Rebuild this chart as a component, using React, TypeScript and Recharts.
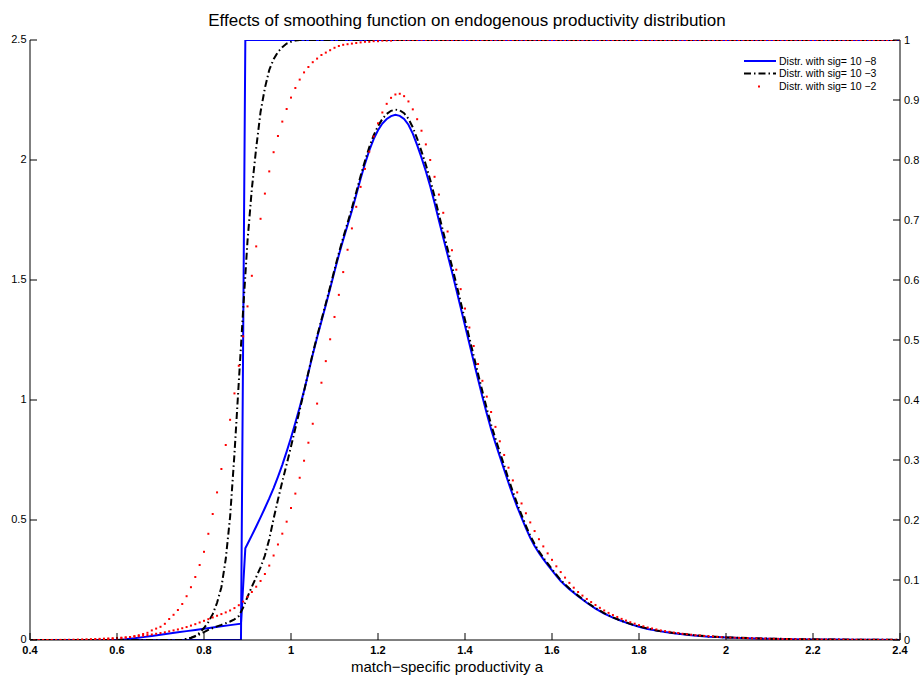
import { LineChart, Line, XAxis, YAxis } from "recharts"

// the picture is drawn from the page's top-left corner, without the default body margin
if (typeof document !== "undefined") {
  document.body.style.margin = "0"
  document.body.style.overflow = "hidden"
}

// evenly spaced sample points of the curves: 0.40, 0.41, ... 2.40
const aGrid = Array.from({ length: 201 }, (_, i) => (40 + i) / 100)

const xTicks = [0.4, 0.6, 0.8, 1, 1.2, 1.4, 1.6, 1.8, 2, 2.2, 2.4]
const densTicks = [0, 0.5, 1, 1.5, 2, 2.5]
const cdfTicks = [0, 0.1, 0.2, 0.3, 0.4, 0.5, 0.6, 0.7, 0.8, 0.9, 1]

const legendLabels = [
  "Distr. with sig= 10 \u22128",
  "Distr. with sig= 10 \u22123",
  "Distr. with sig= 10 \u22122",
]

// sig = 1e-8 : density (left axis) and cdf (right axis)
const blueDensity: [number, number][] = [
  [0.4, 0], [0.6, 0], [0.62, 0.003], [0.64, 0.007], [0.66, 0.012], [0.68, 0.017],
  [0.7, 0.022], [0.72, 0.027], [0.74, 0.032], [0.76, 0.037], [0.78, 0.042], [0.8, 0.047],
  [0.82, 0.052], [0.84, 0.057], [0.86, 0.062], [0.885, 0.068], [0.895, 0.382], [0.9, 0.4],
  [0.91, 0.436], [0.92, 0.473], [0.93, 0.511], [0.94, 0.55], [0.95, 0.59], [0.96, 0.633],
  [0.97, 0.68], [0.98, 0.73], [0.99, 0.785], [1.0, 0.843], [1.01, 0.905], [1.02, 0.97],
  [1.03, 1.038], [1.04, 1.113], [1.05, 1.19], [1.06, 1.26], [1.07, 1.328], [1.08, 1.396],
  [1.09, 1.465], [1.1, 1.535], [1.11, 1.604], [1.12, 1.668], [1.13, 1.728], [1.14, 1.789],
  [1.15, 1.855], [1.16, 1.922], [1.17, 1.984], [1.18, 2.04], [1.19, 2.087], [1.2, 2.124],
  [1.21, 2.152], [1.22, 2.171], [1.23, 2.183], [1.24, 2.188], [1.25, 2.184], [1.26, 2.171],
  [1.27, 2.147], [1.28, 2.11], [1.29, 2.062], [1.3, 2.01], [1.31, 1.953], [1.32, 1.891],
  [1.33, 1.822], [1.34, 1.748], [1.35, 1.676], [1.36, 1.605], [1.37, 1.534], [1.38, 1.46],
  [1.39, 1.385], [1.4, 1.31], [1.41, 1.235], [1.42, 1.16], [1.43, 1.086], [1.44, 1.014],
  [1.45, 0.944], [1.46, 0.878], [1.47, 0.82], [1.48, 0.765], [1.49, 0.71], [1.5, 0.655],
  [1.51, 0.603], [1.52, 0.555], [1.53, 0.51], [1.54, 0.466], [1.55, 0.426], [1.56, 0.392],
  [1.57, 0.363], [1.58, 0.337], [1.59, 0.313], [1.6, 0.29], [1.61, 0.267], [1.62, 0.246],
  [1.63, 0.228], [1.64, 0.212], [1.65, 0.197], [1.66, 0.182], [1.68, 0.155], [1.7, 0.131],
  [1.72, 0.11], [1.74, 0.093], [1.76, 0.079], [1.78, 0.066], [1.8, 0.055], [1.82, 0.046],
  [1.84, 0.039], [1.86, 0.033], [1.88, 0.028], [1.9, 0.024], [1.92, 0.02], [1.94, 0.017],
  [1.96, 0.014], [1.98, 0.012], [2.0, 0.01], [2.05, 0.007], [2.1, 0.005], [2.15, 0.0035],
  [2.2, 0.0025], [2.25, 0.0017], [2.3, 0.0012], [2.35, 0.0008], [2.4, 0.0005],
]
const blueCdf: [number, number][] = [[0.4, 0], [0.885, 0], [0.895, 1], [2.4, 1]]

// sig = 1e-3
const blackDensity: [number, number][] = [
  [0.4, 0], [0.75, 0], [0.76, 0.003], [0.77, 0.008], [0.78, 0.015], [0.79, 0.024],
  [0.8, 0.033], [0.81, 0.042], [0.82, 0.05], [0.83, 0.057], [0.84, 0.063], [0.85, 0.07],
  [0.86, 0.077], [0.87, 0.086], [0.88, 0.1], [0.89, 0.135], [0.9, 0.18], [0.91, 0.222],
  [0.92, 0.262], [0.93, 0.303], [0.94, 0.352], [0.95, 0.42], [0.96, 0.505], [0.97, 0.585],
  [0.98, 0.66], [0.99, 0.732], [1.0, 0.806], [1.01, 0.882], [1.02, 0.958], [1.03, 1.037],
  [1.04, 1.116], [1.05, 1.194], [1.06, 1.266], [1.07, 1.334], [1.08, 1.402], [1.09, 1.472],
  [1.1, 1.543], [1.11, 1.612], [1.12, 1.677], [1.13, 1.738], [1.14, 1.8], [1.15, 1.866],
  [1.16, 1.933], [1.17, 1.996], [1.18, 2.054], [1.19, 2.103], [1.2, 2.141], [1.21, 2.171],
  [1.22, 2.192], [1.23, 2.205], [1.24, 2.21], [1.25, 2.207], [1.26, 2.195], [1.27, 2.172],
  [1.28, 2.136], [1.29, 2.089], [1.3, 2.036], [1.31, 1.98], [1.32, 1.918], [1.33, 1.848],
  [1.34, 1.773], [1.35, 1.7], [1.36, 1.629], [1.37, 1.558], [1.38, 1.484], [1.39, 1.409],
  [1.4, 1.334], [1.41, 1.259], [1.42, 1.184], [1.43, 1.109], [1.44, 1.036], [1.45, 0.965],
  [1.46, 0.898], [1.47, 0.839], [1.48, 0.783], [1.49, 0.727], [1.5, 0.671], [1.51, 0.618],
  [1.52, 0.568], [1.53, 0.521], [1.54, 0.476], [1.55, 0.435], [1.56, 0.4], [1.57, 0.37],
  [1.58, 0.343], [1.59, 0.319], [1.6, 0.295], [1.61, 0.272], [1.62, 0.25], [1.63, 0.232],
  [1.64, 0.215], [1.65, 0.2], [1.66, 0.185], [1.68, 0.157], [1.7, 0.133], [1.72, 0.112],
  [1.74, 0.094], [1.76, 0.08], [1.78, 0.067], [1.8, 0.056], [1.84, 0.04], [1.88, 0.029],
  [1.92, 0.021], [1.96, 0.015], [2.0, 0.011], [2.1, 0.0055], [2.2, 0.0027], [2.3, 0.0013],
  [2.4, 0.0006],
]
const blackCdf: [number, number][] = [
  [0.4, 0], [0.75, 0], [0.76, 0.002], [0.77, 0.004], [0.78, 0.007], [0.79, 0.012],
  [0.8, 0.02], [0.81, 0.03], [0.82, 0.043], [0.83, 0.062], [0.84, 0.088], [0.85, 0.135],
  [0.86, 0.205], [0.87, 0.31], [0.88, 0.43], [0.89, 0.55], [0.9, 0.665], [0.91, 0.752],
  [0.92, 0.82], [0.93, 0.88], [0.94, 0.92], [0.95, 0.95], [0.96, 0.968], [0.97, 0.98],
  [0.98, 0.988], [0.99, 0.994], [1.0, 0.997], [1.01, 0.999], [1.02, 1], [2.4, 1],
]

// sig = 1e-2, one value per point of aGrid (drawn as markers)
const redDensity = [
  0, 0, 0, 0, 0.0001, 0.0002, 0.0003, 0.0005, 0.0007, 0.001,
  0.0013, 0.0017, 0.0022, 0.0027, 0.0033, 0.004, 0.0048, 0.0057, 0.0066, 0.0075,
  0.0085, 0.0097, 0.011, 0.0125, 0.014, 0.016, 0.018, 0.0205, 0.023, 0.026,
  0.029, 0.032, 0.036, 0.04, 0.044, 0.049, 0.054, 0.06, 0.066, 0.073,
  0.08, 0.087, 0.094, 0.101, 0.108, 0.115, 0.123, 0.133, 0.145, 0.16,
  0.18, 0.2, 0.222, 0.246, 0.275, 0.31, 0.352, 0.398, 0.443, 0.493,
  0.55, 0.61, 0.676, 0.747, 0.822, 0.901, 0.985, 1.072, 1.162, 1.253,
  1.346, 1.438, 1.533, 1.626, 1.715, 1.805, 1.888, 1.963, 2.035, 2.098,
  2.153, 2.198, 2.234, 2.259, 2.273, 2.276, 2.266, 2.244, 2.211, 2.17,
  2.122, 2.065, 2.0, 1.93, 1.856, 1.78, 1.702, 1.624, 1.543, 1.462,
  1.381, 1.302, 1.225, 1.15, 1.08, 1.014, 0.95, 0.888, 0.828, 0.771,
  0.718, 0.665, 0.615, 0.569, 0.528, 0.49, 0.454, 0.42, 0.39, 0.361,
  0.334, 0.307, 0.283, 0.26, 0.238, 0.218, 0.2, 0.185, 0.171, 0.158,
  0.146, 0.134, 0.123, 0.113, 0.104, 0.096, 0.088, 0.081, 0.074, 0.068,
  0.062, 0.057, 0.052, 0.048, 0.044, 0.04, 0.037, 0.034, 0.031, 0.029,
  0.026, 0.024, 0.022, 0.02, 0.019, 0.017, 0.016, 0.015, 0.013, 0.012,
  0.011, 0.01, 0.0095, 0.009, 0.0083, 0.0077, 0.0072, 0.0067, 0.0062, 0.0058,
  0.0054, 0.005, 0.0047, 0.0044, 0.0041, 0.0038, 0.0035, 0.0033, 0.0031, 0.0029,
  0.0027, 0.0025, 0.0023, 0.0022, 0.002, 0.0019, 0.0018, 0.0017, 0.0016, 0.0015,
  0.0014, 0.0013, 0.0012, 0.0011, 0.0011, 0.001, 0.0009, 0.0009, 0.0008, 0.0008,
  0.0007,
]
const redCdf = [
  0, 0, 0, 0, 0, 0, 0, 0, 0, 0,
  0, 0.0001, 0.0002, 0.0003, 0.0004, 0.0006, 0.0008, 0.001, 0.0015, 0.002,
  0.0025, 0.003, 0.004, 0.005, 0.0065, 0.008, 0.01, 0.012, 0.016, 0.019,
  0.022, 0.027, 0.035, 0.042, 0.05, 0.06, 0.073, 0.088, 0.105, 0.125,
  0.147, 0.177, 0.21, 0.246, 0.285, 0.325, 0.367, 0.411, 0.457, 0.506,
  0.556, 0.607, 0.656, 0.702, 0.744, 0.781, 0.813, 0.84, 0.864, 0.885,
  0.904, 0.92, 0.934, 0.946, 0.955, 0.963, 0.969, 0.975, 0.979, 0.983,
  0.987, 0.99, 0.992, 0.993, 0.994, 0.995, 0.996, 0.997, 0.997, 0.998,
  0.998, 0.999, 0.999, 0.999, 1, 1, 1, 1, 1, 1,
  1, 1, 1, 1, 1, 1, 1, 1, 1, 1,
  1, 1, 1, 1, 1, 1, 1, 1, 1, 1,
  1, 1, 1, 1, 1, 1, 1, 1, 1, 1,
  1, 1, 1, 1, 1, 1, 1, 1, 1, 1,
  1, 1, 1, 1, 1, 1, 1, 1, 1, 1,
  1, 1, 1, 1, 1, 1, 1, 1, 1, 1,
  1, 1, 1, 1, 1, 1, 1, 1, 1, 1,
  1, 1, 1, 1, 1, 1, 1, 1, 1, 1,
  1, 1, 1, 1, 1, 1, 1, 1, 1, 1,
  1, 1, 1, 1, 1, 1, 1, 1, 1, 1,
  1, 1, 1, 1, 1, 1, 1, 1, 1, 1,
  1,
]

const pts = (arr: [number, number][]) => arr.map(([a, v]) => ({ a, v }))
const onGrid = (vals: number[]) => aGrid.map((a, i) => ({ a, v: vals[i] }))

const FONT = "'Liberation Sans', Arial, Helvetica, sans-serif"
const BLUE = "#0000ff"
const RED = "#ff0000"
const DASHDOT = "7 3 1.5 3"
const TICK = 7

const BottomTick = (props: any) => {
  const { x, y, payload } = props
  return (
    <g>
      <line x1={x} y1={y} x2={x} y2={y - TICK} stroke="#000" />
      <text x={x} y={y + 14} textAnchor="middle" fontSize={11} fontWeight="bold" fill="#000" fontFamily={FONT}>
        {String(payload.value)}
      </text>
    </g>
  )
}

const LeftTick = (props: any) => {
  const { x, y, payload } = props
  return (
    <g>
      <line x1={x} y1={y} x2={x + TICK} y2={y} stroke="#000" />
      <text x={x - 3.5} y={y + 3} textAnchor="end" fontSize={11} fill="#000" fontFamily={FONT}>
        {String(payload.value)}
      </text>
    </g>
  )
}

const RightTick = (props: any) => {
  const { x, y, payload } = props
  return (
    <g>
      <line x1={x} y1={y} x2={x - TICK} y2={y} stroke="#000" />
      <text x={x + 4} y={y + 4} textAnchor="start" fontSize={11} fill="#000" fontFamily={FONT}>
        {String(payload.value)}
      </text>
    </g>
  )
}

const RedMark = (props: any) => {
  const { cx, cy, index } = props
  if (cx == null || cy == null) return <g key={`m-${index}`} />
  return <rect key={`m-${index}`} x={cx - 1} y={cy - 1} width={2} height={2} fill={RED} />
}

export default function App() {
  const W = 921
  const H = 677
  return (
    <div style={{ position: "relative", width: W, height: H, fontFamily: FONT, overflow: "hidden" }}>
      <LineChart width={W} height={H} margin={{ top: 40, right: 0, bottom: 0, left: 0 }}>
        <XAxis
          type="number"
          dataKey="a"
          domain={[0.4, 2.4]}
          ticks={xTicks}
          interval={0}
          allowDataOverflow
          height={37}
          tickSize={0}
          tickMargin={0}
          tick={<BottomTick />}
          axisLine={{ stroke: "#000" }}
          tickLine={false}
        />
        <YAxis
          yAxisId="dens"
          orientation="left"
          domain={[0, 2.5]}
          ticks={densTicks}
          interval={0}
          allowDataOverflow
          width={30}
          tickSize={0}
          tickMargin={0}
          tick={<LeftTick />}
          axisLine={{ stroke: "#000" }}
          tickLine={false}
        />
        <YAxis
          yAxisId="cdf"
          orientation="right"
          domain={[0, 1]}
          ticks={cdfTicks}
          interval={0}
          allowDataOverflow
          width={21}
          tickSize={0}
          tickMargin={0}
          tick={<RightTick />}
          axisLine={{ stroke: "#000" }}
          tickLine={false}
        />

        <Line yAxisId="cdf" data={pts(blueCdf)} dataKey="v" type="linear" stroke={BLUE} strokeWidth={2} dot={false} isAnimationActive={false} />
        <Line yAxisId="dens" data={pts(blueDensity)} dataKey="v" type="linear" stroke={BLUE} strokeWidth={2} dot={false} isAnimationActive={false} />
        <Line yAxisId="cdf" data={pts(blackCdf)} dataKey="v" type="linear" stroke="#000" strokeWidth={2} strokeDasharray={DASHDOT} dot={false} isAnimationActive={false} />
        <Line yAxisId="dens" data={pts(blackDensity)} dataKey="v" type="linear" stroke="#000" strokeWidth={2} strokeDasharray={DASHDOT} dot={false} isAnimationActive={false} />
        <Line yAxisId="cdf" data={onGrid(redCdf)} dataKey="v" type="linear" stroke="none" dot={RedMark} activeDot={false} isAnimationActive={false} />
        <Line yAxisId="dens" data={onGrid(redDensity)} dataKey="v" type="linear" stroke="none" dot={RedMark} activeDot={false} isAnimationActive={false} />
      </LineChart>

      <svg width={W} height={H} style={{ position: "absolute", left: 0, top: 0, pointerEvents: "none" }}>
        <text x={467} y={26} textAnchor="middle" fontSize={17} fill="#000" fontFamily={FONT}>
          Effects of smoothing function on endogenous productivity distribution
        </text>
        <text x={447} y={672} textAnchor="middle" fontSize={15} fill="#000" fontFamily={FONT}>
          {"match\u2212specific productivity a"}
        </text>

        <g fontFamily={FONT} fontSize={10.5} fill="#000">
          <line x1={744} y1={61} x2={776} y2={61} stroke={BLUE} strokeWidth={2} />
          <text x={779} y={64.5}>{legendLabels[0]}</text>
          <line x1={744} y1={73.5} x2={776} y2={73.5} stroke="#000" strokeWidth={2} strokeDasharray={DASHDOT} />
          <text x={779} y={77}>{legendLabels[1]}</text>
          <rect x={758} y={85.5} width={2} height={2} fill={RED} />
          <text x={779} y={90}>{legendLabels[2]}</text>
        </g>
      </svg>
    </div>
  )
}
